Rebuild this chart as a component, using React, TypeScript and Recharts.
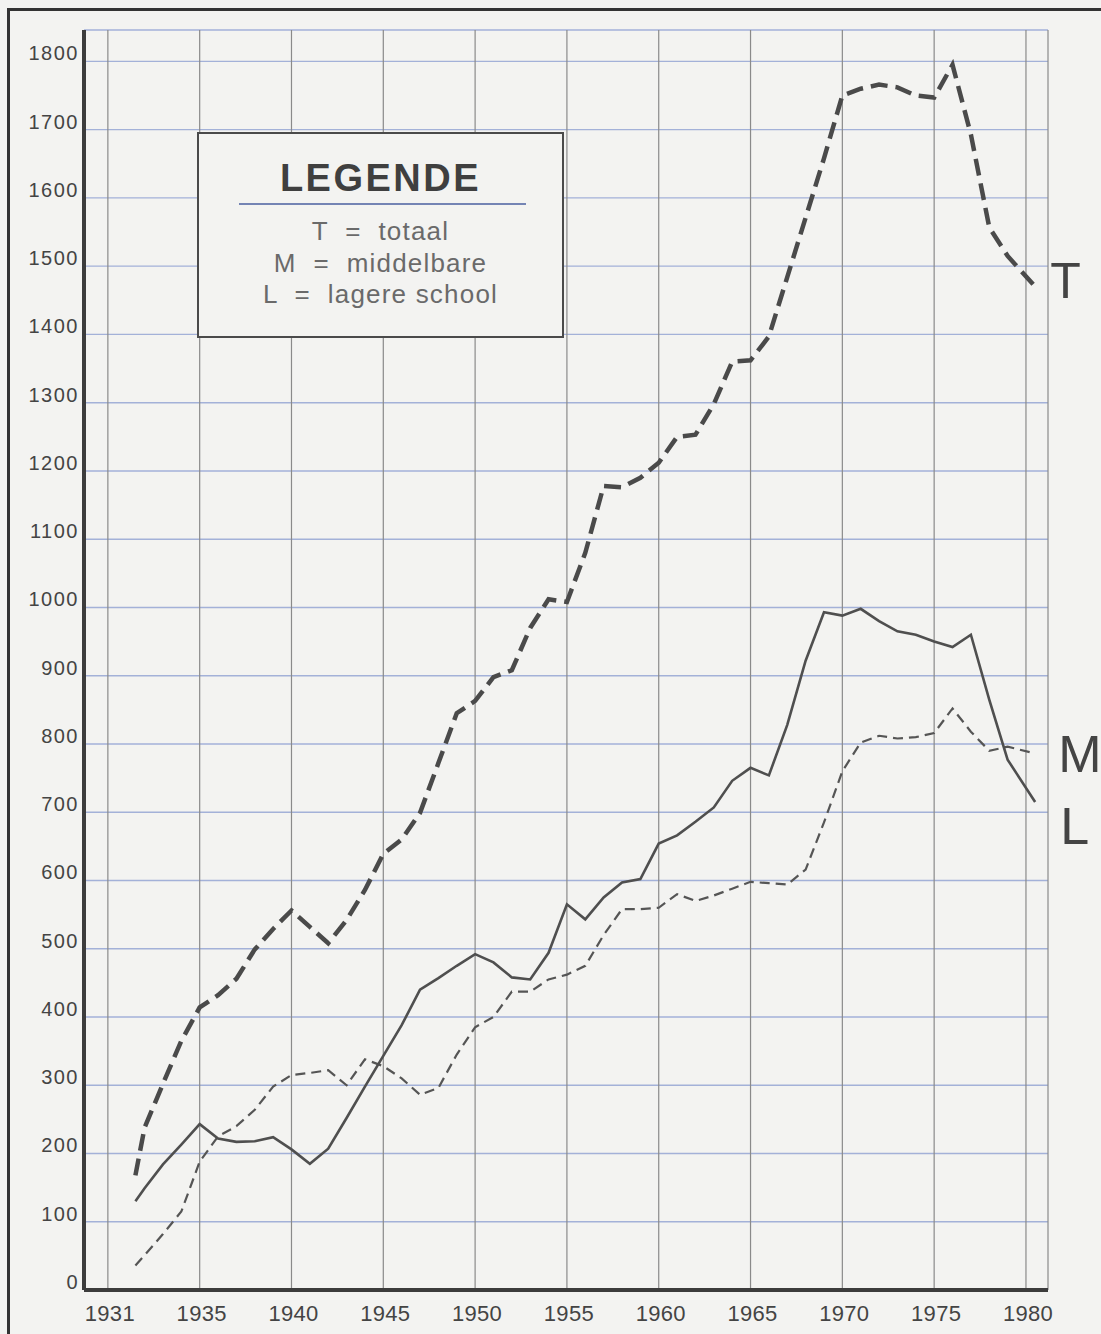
import React from 'react';
import { LineChart, Line, XAxis, YAxis, CartesianGrid, Legend } from 'recharts';

// x positions (years) of the plotted points
const years = [
  1931.5, 1932, 1933, 1934, 1935, 1936, 1937, 1938, 1939, 1940,
  1941, 1942, 1943, 1944, 1945, 1946, 1947, 1948, 1949, 1950,
  1951, 1952, 1953, 1954, 1955, 1956, 1957, 1958, 1959, 1960,
  1961, 1962, 1963, 1964, 1965, 1966, 1967, 1968, 1969, 1970,
  1971, 1972, 1973, 1974, 1975, 1976, 1977, 1978, 1979, 1980.5,
];

// T = totaal (thick dashed)
const totaal = [
  168, 238, 302, 365, 414, 432, 456, 499, 529, 556,
  532, 508, 542, 586, 639, 660, 699, 772, 845, 863,
  898, 908, 970, 1012, 1008, 1080, 1178, 1176, 1190, 1212,
  1250, 1253, 1298, 1360, 1362, 1397, 1484, 1571, 1658, 1750,
  1760, 1766, 1762, 1750, 1747, 1795, 1693, 1557, 1515, 1470,
];

// M = middelbare (thin dashed)
const middelbare = [
  36, 51, 82, 115, 188, 225, 240, 264, 298, 315,
  318, 322, 300, 338, 328, 310, 286, 296, 345, 385,
  400, 437, 437, 455, 462, 475, 520, 558, 558, 560,
  580, 570, 578, 588, 598, 596, 594, 616, 685, 760,
  802, 812, 808, 810, 816, 852, 818, 790, 796, 786,
];

// L = lagere school (solid)
const lagere = [
  130, 149, 184, 213, 243, 222, 217, 218, 224, 206,
  185, 207, 252, 298, 343, 388, 440, 457, 475, 492,
  480, 458, 455, 494, 565, 543, 575, 597, 602, 654,
  666, 686, 707, 746, 765, 754, 828, 922, 993, 988,
  998, 980, 965, 960, 950, 942, 960, 865, 777, 715,
];

const xTicks = [1930, 1935, 1940, 1945, 1950, 1955, 1960, 1965, 1970, 1975, 1980];
const xTickLabels = ['1931', '1935', '1940', '1945', '1950', '1955', '1960', '1965', '1970', '1975', '1980'];
const yTicks = [0, 100, 200, 300, 400, 500, 600, 700, 800, 900, 1000, 1100, 1200, 1300, 1400, 1500, 1600, 1700, 1800];

const legendTitle = 'LEGENDE';
const legendCodes = ['T', 'M', 'L'];
const legendNames = ['totaal', 'middelbare', 'lagere school'];

const xDomain = [1928.7, 1981.2];
const yDomain = [0, 1846];

const data = years.map((year, i) => ({
  year,
  T: totaal[i],
  M: middelbare[i],
  L: lagere[i],
}));

const BG = '#f3f3f1';
const INK = '#3c3c3c';
const FONT = '"Liberation Sans", Arial, Helvetica, sans-serif';

const XTick = (props: any) => {
  const { x, y, payload } = props;
  const idx = xTicks.indexOf(payload.value);
  return (
    <text x={x + 2} y={y + 31} textAnchor="middle" fontFamily={FONT} fontSize={22} fill="#444" letterSpacing={0.3}>
      {idx >= 0 ? xTickLabels[idx] : payload.value}
    </text>
  );
};

const YTick = (props: any) => {
  const { x, y, payload } = props;
  return (
    <text x={x - 5} y={y - 1} textAnchor="end" fontFamily={FONT} fontSize={20} fill="#444" letterSpacing={1.5}>
      {payload.value}
    </text>
  );
};

const makeEndLabel = (code: string, dx: number, dy: number, size: number) => (props: any) => {
  const { x, y, index } = props;
  if (index !== data.length - 1) return <g />;
  return (
    <text x={x + dx} y={y + dy} fontFamily={FONT} fontSize={size} fill="#444" textAnchor="start">
      {code}
    </text>
  );
};

const LegendBox = () => (
  <div
    style={{
      position: 'relative',
      width: 367,
      height: 206,
      boxSizing: 'border-box',
      border: '2.5px solid #4a4a4a',
      background: BG,
      fontFamily: FONT,
    }}
  >
    <div
      style={{
        position: 'absolute',
        left: 0,
        width: '100%',
        top: 22,
        textAlign: 'center',
        fontSize: 38,
        fontWeight: 'bold',
        letterSpacing: 2.5,
        color: '#3f3f3f',
        lineHeight: '44px',
      }}
    >
      {legendTitle}
    </div>
    <div
      style={{
        position: 'absolute',
        left: 40,
        width: 287,
        top: 69,
        height: 0,
        borderTop: '2px solid #7484b4',
      }}
    />
    {legendCodes.map((c, i) => (
      <div
        key={c}
        style={{
          position: 'absolute',
          left: 0,
          width: '100%',
          top: 81 + i * 31.5,
          textAlign: 'center',
          fontSize: 26,
          lineHeight: '32px',
          letterSpacing: 1.2,
          color: '#6a6a6a',
          whiteSpace: 'pre',
        }}
      >
        {c + '  =  ' + legendNames[i]}
      </div>
    ))}
  </div>
);

export default function App() {
  return (
    <div
      style={{
        position: 'absolute',
        left: 0,
        top: 0,
        width: 1101,
        height: 1334,
        background: BG,
        overflow: 'hidden',
      }}
    >
      <div style={{ position: 'absolute', left: 7, top: 8, width: 3, height: 1326, background: '#333' }} />
      <div style={{ position: 'absolute', left: 7, top: 8, width: 1094, height: 3, background: '#333' }} />
      <div style={{ position: 'absolute', left: 0, top: 0 }}>
        <LineChart width={1101} height={1334} data={data} margin={{ top: 30, right: 53, bottom: 0, left: 0 }}>
          <CartesianGrid horizontal={true} vertical={false} stroke="#a3b1d8" strokeWidth={1.4} />
          <CartesianGrid horizontal={false} vertical={true} stroke="#8a8a8a" strokeWidth={1.2} />
          <XAxis
            dataKey="year"
            type="number"
            domain={xDomain}
            ticks={xTicks}
            interval={0}
            allowDataOverflow
            height={44}
            tickSize={0}
            tickMargin={0}
            tickLine={false}
            axisLine={{ stroke: INK, strokeWidth: 4 }}
            tick={<XTick />}
          />
          <XAxis
            xAxisId="top"
            orientation="top"
            type="number"
            domain={xDomain}
            allowDataOverflow
            height={0}
            tick={false}
            tickLine={false}
            axisLine={{ stroke: INK, strokeWidth: 3 }}
          />
          <YAxis
            type="number"
            domain={yDomain}
            ticks={yTicks}
            interval={0}
            allowDataOverflow
            width={84}
            tickSize={0}
            tickMargin={0}
            tickLine={false}
            axisLine={{ stroke: INK, strokeWidth: 4 }}
            tick={<YTick />}
          />
          <YAxis
            yAxisId="right"
            orientation="right"
            type="number"
            domain={yDomain}
            allowDataOverflow
            width={0}
            tick={false}
            tickLine={false}
            axisLine={{ stroke: INK, strokeWidth: 3 }}
          />
          <Legend
            layout="vertical"
            align="center"
            verticalAlign="middle"
            wrapperStyle={{ left: 197, top: 132, width: 367, height: 206 }}
            content={() => <LegendBox />}
          />
          <Line
            type="linear"
            dataKey="M"
            name="middelbare"
            stroke="#555"
            strokeWidth={2.2}
            strokeDasharray="10 6"
            dot={false}
            isAnimationActive={false}
            label={makeEndLabel('M', 23, 18, 52)}
          />
          <Line
            type="linear"
            dataKey="L"
            name="lagere school"
            stroke="#4f4f4f"
            strokeWidth={2.6}
            dot={false}
            isAnimationActive={false}
            label={makeEndLabel('L', 25, 42, 52)}
          />
          <Line
            type="linear"
            dataKey="T"
            name="totaal"
            stroke="#4a4a4a"
            strokeWidth={4.5}
            strokeDasharray="17 8"
            dot={false}
            isAnimationActive={false}
            label={makeEndLabel('T', 15, 11, 50)}
          />
        </LineChart>
      </div>
    </div>
  );
}
